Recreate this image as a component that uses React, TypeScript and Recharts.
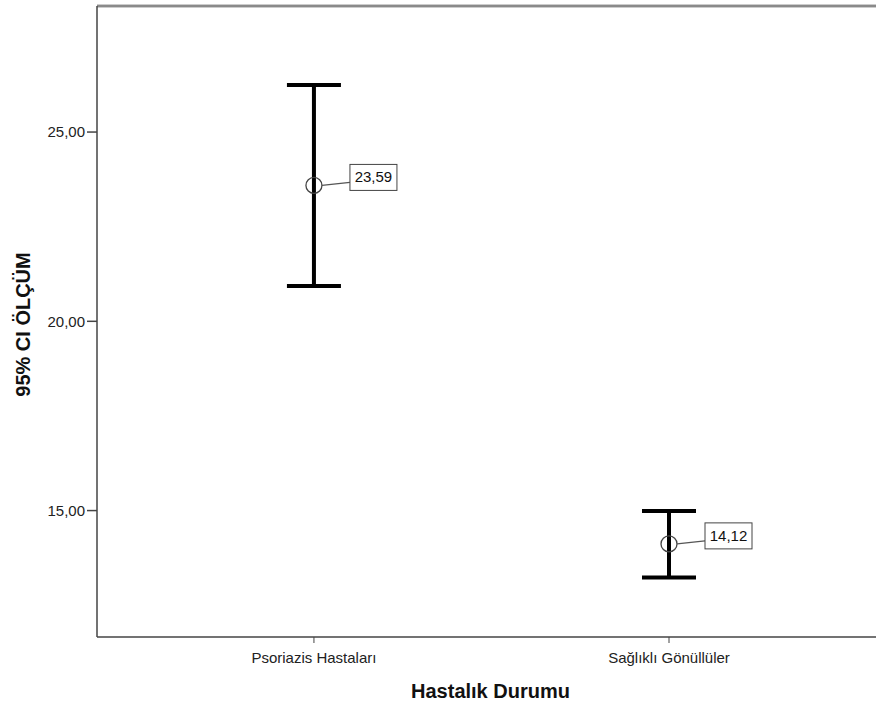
import React from "react";
import {
  ComposedChart,
  Scatter,
  ErrorBar,
  XAxis,
  YAxis,
  Label,
  ReferenceLine,
} from "recharts";

const categories = ["Psoriazis Hastaları", "Sağlıklı Gönüllüler"];
const means = [23.59, 14.12];
const lowerCI = [20.93, 13.23];
const upperCI = [26.24, 14.99];
const yTicks = [15, 20, 25];
const yDomain = [11.66, 28.33];

const rows = categories.map((name, i) => ({
  x: i,
  name,
  mean: means[i],
  err: [means[i] - lowerCI[i], upperCI[i] - means[i]],
}));

const fmt = (v: number) => v.toFixed(2).replace(".", ",");

const MeanMarker = (props: any) => {
  const { cx, cy, payload } = props;
  const bx = cx + 36;
  const by = cy - 21;
  return (
    <g>
      <circle cx={cx} cy={cy} r={8} fill="none" stroke="#444" strokeWidth={1.3} />
      <line x1={cx + 8} y1={cy} x2={bx} y2={cy - 3} stroke="#555" strokeWidth={1.2} />
      <rect x={bx} y={by} width={47} height={26} fill="#fff" stroke="#444" strokeWidth={1} />
      <text x={bx + 23.5} y={by + 18} textAnchor="middle" fontSize={15} fill="#111">
        {fmt(payload.mean)}
      </text>
    </g>
  );
};

const YTitle = ({ viewBox }: any) => {
  const cy = viewBox.y + viewBox.height / 2 + 3;
  return (
    <text
      x={23}
      y={cy}
      transform={`rotate(-90, 23, ${cy})`}
      textAnchor="middle"
      dominantBaseline="central"
      fontSize={20}
      fontWeight="bold"
      fill="#111"
    >
      95% CI ÖLÇÜM
    </text>
  );
};

const XTitle = ({ viewBox }: any) => {
  const cx = viewBox.x + viewBox.width / 2 + 4;
  return (
    <text x={cx} y={698} textAnchor="middle" fontSize={20} fontWeight="bold" fill="#111">
      Hastalık Durumu
    </text>
  );
};

const App: React.FC = () => {
  return (
    <div
      style={{
        position: "absolute",
        left: 0,
        top: 0,
        width: 876,
        height: 706,
        overflow: "hidden",
        background: "#fff",
        fontFamily: "Arial, 'Liberation Sans', sans-serif",
      }}
    >
      <ComposedChart width={876} height={706} data={rows} margin={{ top: 5, right: 0, left: 0, bottom: 0 }}>
        <XAxis
          xAxisId="top"
          orientation="top"
          type="number"
          domain={[0, 1]}
          height={1}
          tick={false}
          tickLine={false}
          axisLine={{ stroke: "#8a8a8a", strokeWidth: 2.5 }}
        />
        <XAxis
          type="number"
          dataKey="x"
          domain={[-0.611, 1.583]}
          ticks={[0, 1]}
          tickFormatter={(i: number) => categories[i]}
          height={69}
          tickSize={6}
          tickMargin={9}
          axisLine={{ stroke: "#444", strokeWidth: 1.5 }}
          tickLine={{ stroke: "#444" }}
          tick={{ fontSize: 15, fill: "#222" }}
          allowDataOverflow
        >
          <Label content={<XTitle />} />
        </XAxis>
        <YAxis
          type="number"
          domain={yDomain}
          ticks={yTicks}
          tickFormatter={fmt}
          width={97}
          tickSize={10}
          tickMargin={2}
          axisLine={{ stroke: "#444", strokeWidth: 1.5 }}
          tickLine={{ stroke: "#444", strokeWidth: 1.5 }}
          tick={{ fontSize: 15, fill: "#222" }}
          allowDataOverflow
        >
          <Label content={<YTitle />} />
        </YAxis>
        <ReferenceLine y={yDomain[1]} stroke="#8a8a8a" strokeWidth={2.5} ifOverflow="visible" />
        <Scatter dataKey="mean" shape={<MeanMarker />} isAnimationActive={false}>
          <ErrorBar dataKey="err" direction="y" width={27} strokeWidth={4} stroke="#000" isAnimationActive={false} />
        </Scatter>
      </ComposedChart>
    </div>
  );
};

export default App;
